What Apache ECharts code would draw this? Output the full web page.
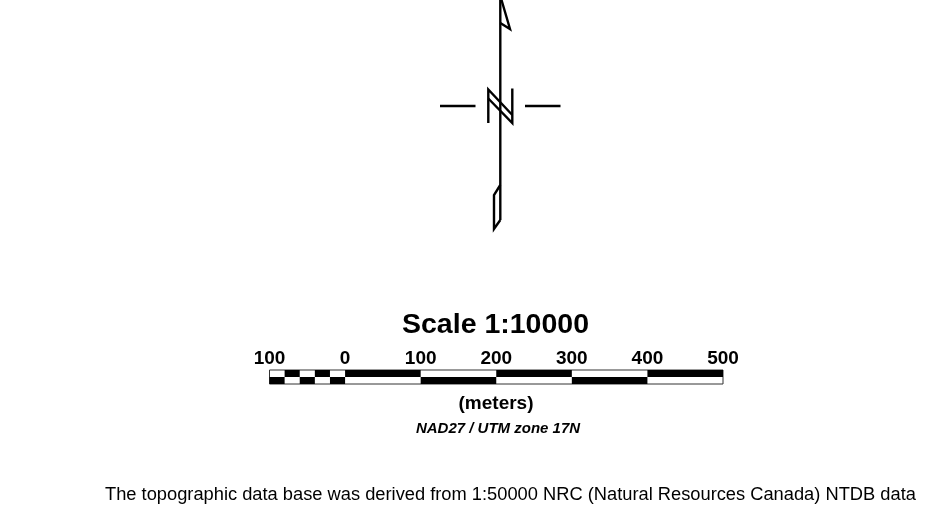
<!DOCTYPE html>
<html>
<head>
<meta charset="utf-8">
<style>html,body{margin:0;padding:0;background:#fff}#main{width:951px;height:508px}</style>
<script src="https://cdn.jsdelivr.net/npm/echarts@6/dist/echarts.min.js"></script>
</head>
<body>
<div id="main"></div>
<script>
// scale bar, in meters
var scaleRows = ['top', 'bottom'];
var topBlack = [[-80, -60], [-40, -20], [0, 100], [200, 300], [400, 500]];
var bottomBlack = [[-100, -80], [-60, -40], [-20, 0], [100, 200], [300, 400]];

// north arrow strokes, [x, y] on the page-sized sheet axes
var shaft = [[500.3, 0], [500.3, 220]];
var upperFlag = [[501.5, 0], [510, 29], [500.3, 23]];
var lowerFlag = [[500.3, 185], [494, 195], [494, 229], [500.3, 220]];
var nLeft = [[488.3, 123], [488.3, 89.5], [512.3, 115]];
var nRight = [[488.3, 98.5], [512.3, 123], [512.3, 88.5]];
var westTick = [[440, 106], [475.5, 106]];
var eastTick = [[525, 106], [560.5, 106]];

var titleText = 'Scale 1:10000';
var unitText = '(meters)';
var datumText = 'NAD27 / UTM zone 17N';
var sourceText = 'The topographic data base was derived from 1:50000 NRC (Natural Resources Canada) NTDB data';

var fontName = '"Liberation Sans", Arial, sans-serif';
var chart = echarts.init(document.getElementById('main'));

function stroke(name, data) {
    return {
        name: name,
        type: 'line',
        xAxisIndex: 1,
        yAxisIndex: 1,
        data: data,
        symbol: 'none',
        silent: true,
        lineStyle: { color: '#000', width: 2.4, cap: 'butt', join: 'miter' }
    };
}

function blocks(rowIndex, data) {
    return {
        type: 'custom',
        xAxisIndex: 0,
        yAxisIndex: 0,
        silent: true,
        data: data,
        renderItem: function(params, api) {
            var a = api.coord([api.value(0), rowIndex]);
            var b = api.coord([api.value(1), rowIndex]);
            var h = api.size([0, 1])[1];
            return {
                type: 'rect',
                shape: { x: a[0], y: a[1] - h / 2, width: b[0] - a[0], height: h },
                style: { fill: '#000' }
            };
        }
    };
}

chart.setOption({
    animation: false,
    backgroundColor: '#fff',
    title: [
        { text: titleText, left: 495.5, top: 310.5, textAlign: 'center', padding: 0,
          textStyle: { fontFamily: fontName, fontSize: 28.5, fontWeight: 'bold', color: '#000' } },
        { text: unitText, left: 496, top: 394, textAlign: 'center', padding: 0,
          textStyle: { fontFamily: fontName, fontSize: 19, fontWeight: 'bold', color: '#000' } },
        { text: datumText, left: 498, top: 421, textAlign: 'center', padding: 0,
          textStyle: { fontFamily: fontName, fontSize: 15, fontWeight: 'bold', fontStyle: 'italic', color: '#000' } },
        { text: sourceText, left: 105, top: 486, padding: 0,
          textStyle: { fontFamily: fontName, fontSize: 18.3, fontWeight: 'normal', color: '#000' } }
    ],
    grid: [
        { left: 269.5, top: 370, width: 453.5, height: 14, show: true, borderColor: '#333', borderWidth: 1, backgroundColor: '#fff' },
        { left: 0, top: 0, width: 951, height: 508, show: false }
    ],
    xAxis: [
        {
            gridIndex: 0, type: 'value', position: 'top', min: -100, max: 500, interval: 100,
            axisLine: { show: false }, axisTick: { show: false }, splitLine: { show: false },
            axisLabel: {
                margin: 2, color: '#000', fontFamily: fontName, fontSize: 19, fontWeight: 'bold',
                formatter: function(v) { return String(Math.abs(v)); }
            }
        },
        { gridIndex: 1, type: 'value', min: 0, max: 951, show: false }
    ],
    yAxis: [
        { gridIndex: 0, type: 'category', data: scaleRows, inverse: true, show: false },
        { gridIndex: 1, type: 'value', min: 0, max: 508, inverse: true, show: false }
    ],
    series: [
        blocks(0, topBlack),
        blocks(1, bottomBlack),
        stroke('shaft', shaft),
        stroke('upperFlag', upperFlag),
        stroke('lowerFlag', lowerFlag),
        stroke('nLeft', nLeft),
        stroke('nRight', nRight),
        stroke('westTick', westTick),
        stroke('eastTick', eastTick)
    ]
});
</script>
</body>
</html>
